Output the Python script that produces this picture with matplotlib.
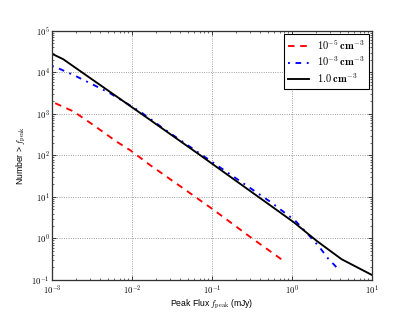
import numpy as np
import matplotlib
matplotlib.use("Agg")
import matplotlib.pyplot as plt
from matplotlib.ticker import FuncFormatter, LogLocator

plt.rcParams['mathtext.fontset'] = 'cm'
plt.rcParams['font.family'] = ['Liberation Sans', 'DejaVu Sans']

# Data (log10 flux in mJy, log10 number)
red_logx = [-2.96, -2.73, -2.48, -2.19, -2.025, -1.775, -1.42, -0.98, -0.525, -0.09]
red_logn = [3.26, 3.06, 2.73, 2.33, 2.13, 1.77, 1.29, 0.69, 0.04, -0.56]

blue_logx = [-3.0, -2.92, -2.71, -2.48, -2.275, -2.07, -1.9, -1.6, -1.2, -0.67, -0.275,
             0.04, 0.21, 0.34, 0.45, 0.54, 0.59]
blue_logn = [4.16, 4.10, 3.92, 3.70, 3.50, 3.26, 3.06, 2.64, 2.11, 1.41, 0.89,
             0.43, 0.08, -0.20, -0.48, -0.66, -0.78]

black_logx = [-3.0, -2.86, -1.82, -1.15, -0.15, 0.03, 0.31, 0.62, 1.0]
black_logn = [4.45, 4.32, 2.92, 2.01, 0.63, 0.38, -0.06, -0.50, -0.88]

labels = [r'$\mathbf{10^{-5}\,cm^{-3}}$', r'$\mathbf{10^{-3}\,cm^{-3}}$', r'$\mathbf{1.0\;cm^{-3}}$']

fig = plt.figure(figsize=(415/52, 6), dpi=52)
ax = fig.add_axes([0.1253, 0.1026, 0.7711, 0.7981])

ax.plot(10**np.array(red_logx), 10**np.array(red_logn), color='red', ls='--', lw=2.6, dashes=(3.5, 3), label=labels[0])
ax.plot(10**np.array(blue_logx), 10**np.array(blue_logn), color='blue', ls='-.', lw=2.6, dashes=(1, 3, 3, 3), label=labels[1])
ax.plot(10**np.array(black_logx), 10**np.array(black_logn), color='black', ls='-', lw=2.6, label=labels[2])

ax.set_xscale('log')
ax.set_yscale('log')
ax.set_xlim(1e-3, 10)
ax.set_ylim(1e-1, 1e5)

fmt = FuncFormatter(lambda v, p: r'$10^{%d}$' % int(round(np.log10(v))))
ax.xaxis.set_major_formatter(fmt)
ax.yaxis.set_major_formatter(fmt)
ax.xaxis.set_major_locator(LogLocator(base=10, numticks=10))
ax.yaxis.set_major_locator(LogLocator(base=10, numticks=10))

ax.tick_params(which='both', direction='in', top=True, right=True, labelsize=12)
ax.tick_params(which='major', length=6, width=1)
ax.tick_params(which='minor', length=3, width=0.8)
ax.tick_params(axis='x', pad=6)

for s in ax.spines.values():
    s.set_linewidth(1.8)
    s.set_color('#333333')

ax.grid(True, which='major', ls=':', color='#888888', lw=1.2)

ax.set_xlabel(r'Peak Flux $f_{\rm peak}$ (mJy)', fontsize=12, labelpad=1)
ax.set_ylabel(r'Number > $f_{\rm peak}$', fontsize=12)

leg = ax.legend(loc='upper right', fontsize=14.5, fancybox=False, framealpha=1,
                handlelength=2.0, borderpad=0.4, labelspacing=0.25,
                borderaxespad=0.3, handletextpad=0.8)
leg.get_frame().set_edgecolor('black')
leg.get_frame().set_linewidth(1.5)

fig.savefig('out.png', dpi=52)
